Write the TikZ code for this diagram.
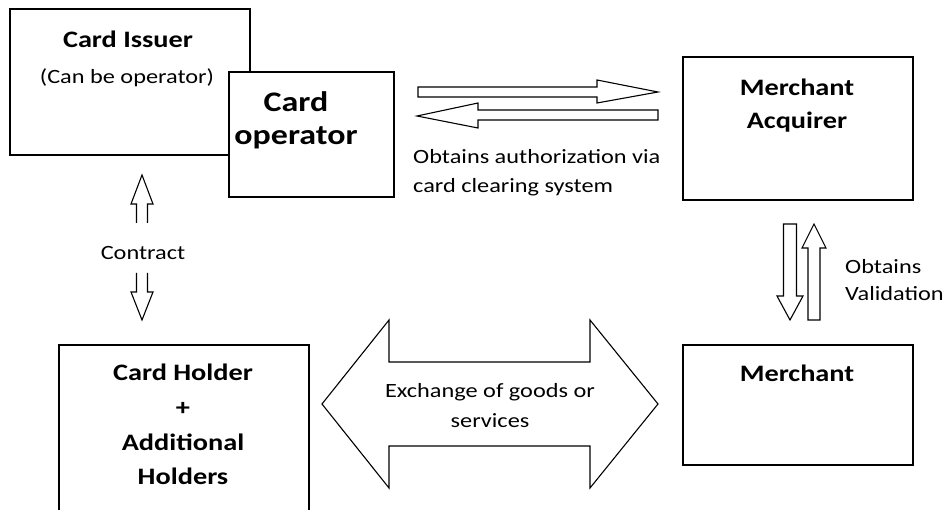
\documentclass[tikz,border=0pt]{standalone}
\usepackage{fontspec}
\setmainfont{Carlito}[FakeStretch=1.2]
\begin{document}
\begin{tikzpicture}[x=1pt,y=-1pt,
  box/.style={draw, line width=1.7pt, fill=white, anchor=north west, inner sep=0pt},
  blk/.style={draw, line width=1.1pt, line join=miter, fill=white},
  lbl/.style={font=\fontsize{20.25}{29}\selectfont, inner sep=0pt},
  ttl/.style={font=\fontsize{23.6}{33}\selectfont\bfseries, inner sep=0pt, align=center}]
\useasboundingbox (0,0) rectangle (951,510);
\clip (0,0) rectangle (951,510);
% boxes
\node[box, minimum width=240pt, minimum height=146pt] (issuer) at (9,8) {};
\node[box, minimum width=165pt, minimum height=125pt] (operator) at (228,71) {};
\node[box, minimum width=230pt, minimum height=143pt] (acquirer) at (682,56) {};
\node[box, minimum width=230pt, minimum height=120pt] (merchant) at (682,344) {};
\node[box, minimum width=250pt, minimum height=200pt] (holder) at (58,344) {};
% box texts
\node[ttl] (issuerT) at (128,39) {Card Issuer};
\node[lbl] (issuerS) at (127,78) {(Can be operator)};
\node[ttl, font=\fontsize{28.3}{33}\selectfont\bfseries] (operatorT) at (296,120.5) {Card\\operator};
\node[ttl] (acquirerT) at (797,105.5) {Merchant\\Acquirer};
\node[ttl] (merchantT) at (797,373) {Merchant};
\node[ttl, font=\fontsize{23.6}{34.7}\selectfont\bfseries] (holderT) at (183,424.5) {Card Holder\\+\\Additional\\Holders};
% top horizontal arrows
\draw[blk] (418,87) -- (597,87) -- (597,80) -- (658,92) -- (597,103) -- (597,97) -- (418,97) -- cycle;
\draw[blk] (658,110) -- (478,110) -- (478,103) -- (417,116) -- (478,128) -- (478,120) -- (658,120) -- cycle;
\node[lbl, anchor=north west, align=left] (authT) at (413,149.3) {Obtains authorization via\\card clearing system};
% right vertical arrows
\draw[blk] (783.5,224) -- (796.5,224) -- (796.5,296) -- (803,296) -- (790,320) -- (777,296) -- (783.5,296) -- cycle;
\draw[blk] (808,320) -- (808,248) -- (802,248) -- (814,224) -- (826,248) -- (820,248) -- (820,320) -- cycle;
\node[lbl, anchor=north west, align=left, font=\fontsize{20.25}{27}\selectfont] (validT) at (845,259.5) {Obtains\\Validation};
% contract arrows
\draw[blk, fill=none] (136.5,223) -- (136.5,204) -- (131,204) -- (142,175) -- (153,204) -- (147.5,204) -- (147.5,223);
\draw[blk, fill=none] (136.5,273) -- (136.5,292) -- (131,292) -- (142,320) -- (153,292) -- (147.5,292) -- (147.5,273);
\node[lbl] (contractT) at (143,253) {Contract};
% big double arrow
\draw[blk] (322,404) -- (389,320) -- (389,362) -- (590,362) -- (590,320) -- (658,404) -- (590,488) -- (590,446) -- (389,446) -- (389,488) -- cycle;
\node[lbl, anchor=north, align=center, font=\fontsize{20.25}{30}\selectfont] (exchT) at (490,383.3) {Exchange of goods or\\services};
\end{tikzpicture}
\end{document}
